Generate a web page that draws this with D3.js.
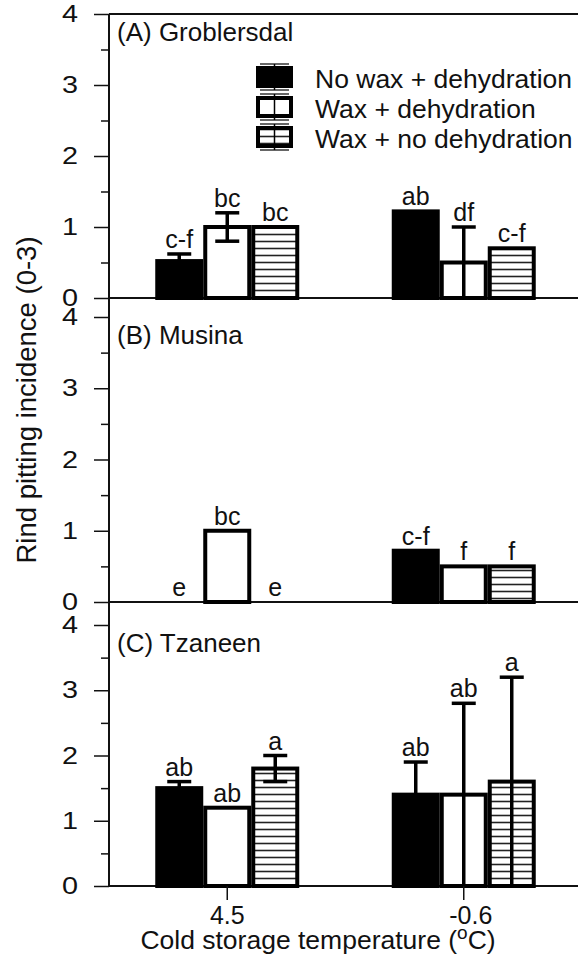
<!DOCTYPE html>
<html>
<head>
<meta charset="utf-8">
<script src="https://cdn.jsdelivr.net/npm/d3@7"></script>
<style>
  html, body { margin: 0; padding: 0; background: #fff; }
  svg { display: block; font-family: "Liberation Sans", Arial, Helvetica, sans-serif; }
</style>
</head>
<body>
<svg id="chart" width="578" height="957"></svg>
<script>
// Storage temperatures (group labels on the shared x axis)
const temps = ["4.5", "-0.6"];
// Treatments (series)
const treatments = ["No wax + dehydration", "Wax + dehydration", "Wax + no dehydration"];
// Sites (panels)
const sites = ["(A) Groblersdal", "(B) Musina", "(C) Tzaneen"];
const yTicks = [0, 1, 2, 3, 4];
const yMinorTicks = [0.5, 1.5, 2.5, 3.5];

// Mean rind pitting incidence, [temperature][treatment]
const groblersdalMeans = [[0.52, 1.0, 1.0], [1.22, 0.5, 0.7]];
const musinaMeans      = [[0, 1.0, 0], [0.72, 0.5, 0.5]];
const tzaneenMeans     = [[1.5, 1.2, 1.8], [1.4, 1.4, 1.6]];

// Error bar half-lengths, [temperature][treatment]
const groblersdalErr = [[0.1, 0.2, 0], [0, 0.5, 0]];
const musinaErr      = [[0, 0, 0], [0, 0, 0]];
const tzaneenErr     = [[0.1, 0, 0.2], [0.5, 1.4, 1.6]];

// Mean separation letters, [temperature][treatment]
const groblersdalLetters = [["c-f", "bc", "bc"], ["ab", "df", "c-f"]];
const musinaLetters      = [["e", "bc", "e"], ["c-f", "f", "f"]];
const tzaneenLetters     = [["ab", "ab", "a"], ["ab", "ab", "a"]];

const siteMeans = [groblersdalMeans, musinaMeans, tzaneenMeans];
const siteErr = [groblersdalErr, musinaErr, tzaneenErr];
const siteLetters = [groblersdalLetters, musinaLetters, tzaneenLetters];

// ---- layout ----
const svg = d3.select("#chart");
const axisX = 109, rightX = 578;
// pixel rows for value 0 and value 4 of each panel
const panelRows = [[298, 14], [602, 317], [886, 625]];
const ink = "#111";
const tickStretch = 1.2;

const x = d3.scaleBand().domain(temps).range([axisX, 582]);
const xInner = d3.scaleBand().domain(treatments).range([-72, 72]);
const barStroke = 4;

const defs = svg.append("defs");
const hatch = defs.append("pattern")
  .attr("id", "hatch").attr("patternUnits", "userSpaceOnUse")
  .attr("width", 8).attr("height", 7);
hatch.append("rect").attr("width", 8).attr("height", 7).attr("fill", "#fff");
hatch.append("line").attr("x1", 0).attr("x2", 8).attr("y1", 3.5).attr("y2", 3.5)
  .attr("stroke", "#222").attr("stroke-width", 1.6);

const fills = ["#000", "#fff", "url(#hatch)"];

sites.forEach((site, p) => {
  const [py0, py4] = panelRows[p];
  const y = d3.scaleLinear().domain([0, 4]).range([py0, py4]);
  const g = svg.append("g");

  // major and minor y ticks
  const major = g.append("g").attr("transform", `translate(${axisX},0)`)
    .call(d3.axisLeft(y).tickValues(yTicks).tickSize(15).tickPadding(15).tickFormat(d3.format("d")));
  major.select(".domain").remove();
  major.selectAll("line").attr("stroke", ink).attr("stroke-width", 1.5);
  major.selectAll("text").attr("font-size", 24).attr("fill", ink)
    .attr("font-family", "Liberation Sans, Arial, sans-serif")
    .attr("x", -31 / tickStretch)
    .attr("transform", `scale(${tickStretch},1)`);
  const minor = g.append("g").attr("transform", `translate(${axisX},0)`)
    .call(d3.axisLeft(y).tickValues(yMinorTicks).tickSize(8).tickFormat(""));
  minor.select(".domain").remove();
  minor.selectAll("line").attr("stroke", ink).attr("stroke-width", 1.5);

  // zero line across the panel
  g.append("line").attr("x1", axisX).attr("x2", rightX).attr("y1", y(0)).attr("y2", y(0))
    .attr("stroke", ink).attr("stroke-width", 2);

  // bars
  const rows = [];
  temps.forEach((t, i) => treatments.forEach((s, j) => {
    rows.push({ t, s, j, v: siteMeans[p][i][j], e: siteErr[p][i][j], lab: siteLetters[p][i][j] });
  }));
  const cx = d => x(d.t) + x.bandwidth() / 2 + xInner(d.s);
  g.selectAll("rect.bar").data(rows.filter(d => d.v > 0)).join("rect")
    .attr("class", "bar")
    .attr("x", d => cx(d) + barStroke / 2)
    .attr("width", xInner.bandwidth() - barStroke)
    .attr("y", d => y(d.v))
    .attr("height", d => y(0) - y(d.v))
    .attr("fill", d => fills[d.j])
    .attr("stroke", "#000").attr("stroke-width", barStroke);

  // error bars
  const eb = g.selectAll("g.err").data(rows.filter(d => d.e > 0)).join("g").attr("class", "err");
  const mid = d => cx(d) + xInner.bandwidth() / 2;
  eb.append("line").attr("x1", mid).attr("x2", mid)
    .attr("y1", d => y(d.v - d.e)).attr("y2", d => y(d.v + d.e))
    .attr("stroke", "#000").attr("stroke-width", 3.5);
  [1, -1].forEach(sgn => {
    eb.append("line").attr("x1", d => mid(d) - 12).attr("x2", d => mid(d) + 12)
      .attr("y1", d => y(d.v + sgn * d.e)).attr("y2", d => y(d.v + sgn * d.e))
      .attr("stroke", "#000").attr("stroke-width", 3.5);
  });

  // letters
  g.selectAll("text.letter").data(rows).join("text")
    .attr("class", "letter")
    .attr("x", mid)
    .attr("y", d => y(d.v + d.e) - 6)
    .attr("text-anchor", "middle").attr("font-size", 25).attr("fill", ink)
    .text(d => d.lab);

  // panel title
  g.append("text").attr("x", 117).attr("y", y(4) + 27)
    .attr("font-size", 26).attr("fill", ink).text(site);
});

// shared y axis line and top frame
svg.append("line").attr("x1", axisX).attr("x2", axisX)
  .attr("y1", panelRows[0][1]).attr("y2", panelRows[2][0])
  .attr("stroke", ink).attr("stroke-width", 2);
svg.append("line").attr("x1", axisX).attr("x2", rightX)
  .attr("y1", panelRows[0][1]).attr("y2", panelRows[0][1])
  .attr("stroke", ink).attr("stroke-width", 2);

// bottom x axis; the minus sign hangs left of the tick so digits stay centred
const xAxis = svg.append("g").attr("transform", `translate(0,${panelRows[2][0]})`)
  .call(d3.axisBottom(x).tickSize(14).tickPadding(6));
xAxis.select(".domain").remove();
xAxis.selectAll("line").attr("stroke", ink).attr("stroke-width", 1.5);
xAxis.selectAll("text").attr("font-size", 25).attr("fill", ink)
  .attr("font-family", "Liberation Sans, Arial, sans-serif")
  .attr("dx", d => d.startsWith("-") ? 7 : 0);

// axis titles
const xt = svg.append("text").attr("x", 318).attr("y", 949).attr("text-anchor", "middle")
  .attr("font-size", 26.5).attr("fill", ink);
xt.append("tspan").text("Cold storage temperature (");
xt.append("tspan").attr("dy", -10).attr("font-size", 19).text("o");
xt.append("tspan").attr("dy", 10).text("C)");

svg.append("text").attr("transform", "translate(36,400) rotate(-90)")
  .attr("text-anchor", "middle").attr("font-size", 27.5).attr("fill", ink)
  .text("Rind pitting incidence (0-3)");

// legend
const legend = svg.append("g");
treatments.forEach((s, j) => {
  const base = 88 + j * 30;
  const cy = base - 11;
  const lg = legend.append("g");
  lg.append("rect").attr("x", 258).attr("y", cy - 9).attr("width", 33).attr("height", 18)
    .attr("fill", fills[j]).attr("stroke", "#000").attr("stroke-width", 4);
  lg.append("line").attr("x1", 274.5).attr("x2", 274.5).attr("y1", cy - 13).attr("y2", cy + 13)
    .attr("stroke", "#000").attr("stroke-width", 1.5);
  [-13, 13].forEach(o => lg.append("line").attr("x1", 260).attr("x2", 289)
    .attr("y1", cy + o).attr("y2", cy + o).attr("stroke", "#000").attr("stroke-width", 1.2));
  lg.append("text").attr("x", 315).attr("y", base).attr("font-size", 26.5).attr("fill", ink).text(s);
});
</script>
</body>
</html>
